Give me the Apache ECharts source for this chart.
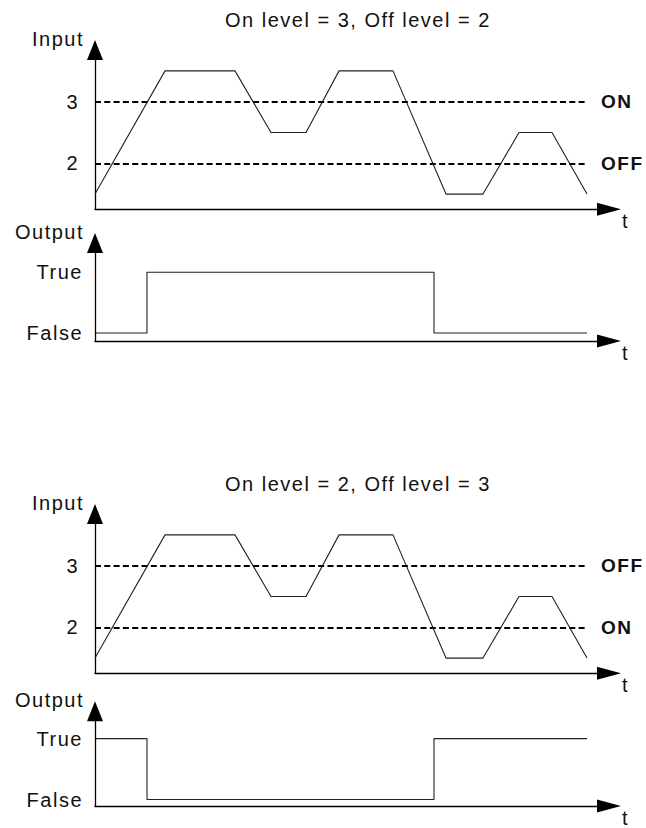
<!DOCTYPE html>
<html>
<head>
<meta charset="utf-8">
<script src="https://cdn.jsdelivr.net/npm/echarts@6/dist/echarts.min.js"></script>
<style>
  html, body { margin: 0; padding: 0; background: #fff; }
  #main { width: 646px; height: 828px; letter-spacing: 1.5px; }
</style>
</head>
<body>
<div id="main"></div>
<script>
var myChart = echarts.init(document.getElementById('main'), null, { renderer: 'svg' });

// input signal: time t and level
var inputTime = [0, 7.0, 14.0, 17.6, 21.1, 24.4, 29.8, 35.1, 38.8, 42.4, 45.7, 49.2];
var inputLevel = [1.5, 3.5, 3.5, 2.5, 2.5, 3.5, 3.5, 1.5, 1.5, 2.5, 2.5, 1.5];

// output: times where it switches, 0 = False, 1 = True
var switchTime = [0, 5.2, 33.9, 49.2];
var outputA = [0, 1, 0, 0];   // on level 3, off level 2
var outputB = [1, 0, 1, 1];   // on level 2, off level 3

var levels = [3, 2];
var levelNamesA = ['ON', 'OFF'];
var levelNamesB = ['OFF', 'ON'];
var stateNames = ['False', 'True'];
var titles = ['On level = 3, Off level = 2', 'On level = 2, Off level = 3'];
var tEnd = 49.2;

var font = 'Liberation Sans, Arial, Helvetica, sans-serif';
var ink = '#111';
var fs = 20;

function pairs(xs, ys) {
  return xs.map(function (x, i) { return [x, ys[i]]; });
}

function tAxis(idx) {
  return {
    gridIndex: idx,
    type: 'value',
    min: 0,
    max: 51.4,
    name: 't',
    nameLocation: 'end',
    nameGap: 13,
    nameTextStyle: { fontSize: fs, color: ink, fontFamily: font, verticalAlign: 'top', padding: [2, 0, 0, 0] },
    axisLine: {
      onZero: false,
      symbol: ['none', 'triangle'],
      symbolSize: [13, 24],
      lineStyle: { color: '#000', width: 1.3 }
    },
    axisTick: { show: false },
    axisLabel: { show: false },
    splitLine: { show: false }
  };
}

function inputAxis(idx) {
  return {
    gridIndex: idx,
    type: 'value',
    min: 1.253,
    max: 3.839,
    name: 'Input',
    nameLocation: 'end',
    nameGap: 11,
    nameTextStyle: { fontSize: fs, color: ink, fontFamily: font, align: 'right', verticalAlign: 'middle', padding: [0, 11, 0, 0] },
    axisLine: {
      onZero: false,
      symbol: ['none', 'triangle'],
      symbolSize: [16, 20],
      lineStyle: { color: '#000', width: 1.3 }
    },
    axisTick: { show: false },
    axisLabel: { customValues: levels, fontSize: fs, color: ink, fontFamily: font, margin: 16 },
    splitLine: { show: false }
  };
}

function outputAxis(idx, min, max) {
  return {
    gridIndex: idx,
    type: 'value',
    min: min,
    max: max,
    name: 'Output',
    nameLocation: 'end',
    nameGap: 11,
    nameTextStyle: { fontSize: fs, color: ink, fontFamily: font, align: 'right', verticalAlign: 'middle', padding: [0, 11, 0, 0] },
    axisLine: {
      onZero: false,
      symbol: ['none', 'triangle'],
      symbolSize: [16, 20],
      lineStyle: { color: '#000', width: 1.3 }
    },
    axisTick: { show: false },
    axisLabel: {
      customValues: [0, 1],
      fontSize: fs, color: ink, fontFamily: font, margin: 12,
      formatter: function (v) { return stateNames[Math.round(v)]; }
    },
    splitLine: { show: false }
  };
}

function inputSeries(idx, names) {
  return {
    type: 'line',
    xAxisIndex: idx,
    yAxisIndex: idx,
    data: pairs(inputTime, inputLevel),
    symbol: 'none',
    lineStyle: { color: '#222', width: 1.1 },
    markLine: {
      silent: true,
      symbol: ['none', 'none'],
      lineStyle: { type: [6, 3.3], color: '#000', width: 1.8 },
      label: {
        position: 'end', distance: 14, formatter: '{b}',
        fontSize: 19, fontWeight: 'bold', color: ink, fontFamily: font
      },
      data: levels.map(function (v, i) {
        return [{ coord: [0, v], name: names[i] }, { coord: [tEnd, v] }];
      })
    }
  };
}

function outputSeries(idx, values) {
  return {
    type: 'line',
    xAxisIndex: idx,
    yAxisIndex: idx,
    step: 'end',
    data: pairs(switchTime, values),
    symbol: 'none',
    lineStyle: { color: '#222', width: 1.1 }
  };
}

option = {
  animation: false,
  backgroundColor: '#fff',
  textStyle: { fontFamily: font },
  title: titles.map(function (t, i) {
    return {
      text: t,
      left: 225,
      top: [10, 474][i],
      padding: 0,
      textStyle: { fontSize: fs, fontWeight: 'normal', color: ink, fontFamily: font }
    };
  }),
  grid: [
    { left: 95, top: 50, width: 514, height: 159.3 },
    { left: 95, top: 243, width: 514, height: 98 },
    { left: 95, top: 514, width: 514, height: 159.3 },
    { left: 95, top: 711.3, width: 514, height: 97 }
  ],
  xAxis: [tAxis(0), tAxis(1), tAxis(2), tAxis(3)],
  yAxis: [
    inputAxis(0),
    outputAxis(1, -0.132, 1.483),
    inputAxis(2),
    outputAxis(3, -0.106, 1.449)
  ],
  series: [
    inputSeries(0, levelNamesA),
    outputSeries(1, outputA),
    inputSeries(2, levelNamesB),
    outputSeries(3, outputB)
  ]
};

myChart.setOption(option);
</script>
</body>
</html>
